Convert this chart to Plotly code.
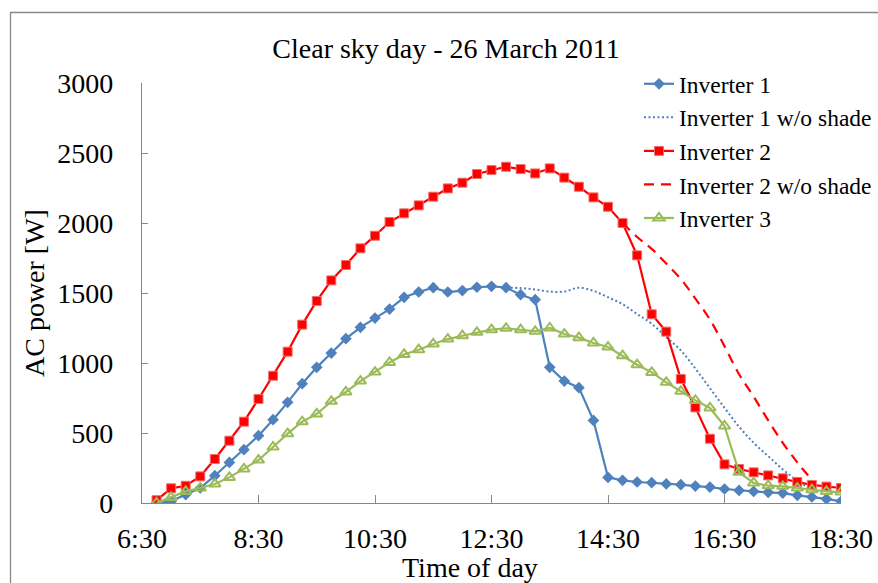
import plotly.graph_objects as go

# ---- data (15-min samples, 6:45 .. 18:30) ----
n_samples = 48
hours = [6.75 + 0.25 * i for i in range(n_samples)]

tick_hours = [6.5, 8.5, 10.5, 12.5, 14.5, 16.5, 18.5]
tick_labels = ["6:30", "8:30", "10:30", "12:30", "14:30", "16:30", "18:30"]
y_ticks = [0, 500, 1000, 1500, 2000, 2500, 3000]

inverter1 = [0, 12, 60, 107, 195, 290, 381, 481, 595, 719, 852, 969, 1071, 1174, 1255, 1321,
             1385, 1469, 1507, 1538, 1507, 1517, 1541, 1548, 1538, 1488, 1452, 969, 871, 824,
             590, 183, 162, 150, 145, 136, 131, 121, 114, 100, 90, 83, 76, 71, 55, 43, 29, 12]

inverter1_noshade = [None] * 24 + [1538, 1535, 1525, 1510, 1510, 1538, 1515, 1470, 1420, 1350,
                                   1280, 1185, 1090, 960, 820, 680, 545, 430, 335, 240, 160, 95]

inverter2 = [20, 105, 123, 190, 314, 445, 581, 743, 909, 1081, 1274, 1443, 1590, 1700, 1819,
             1909, 2007, 2069, 2126, 2188, 2247, 2288, 2350, 2378, 2402, 2385, 2354, 2390, 2324,
             2259, 2183, 2116, 2000, 1769, 1348, 1224, 886, 683, 459, 276, 243, 219, 197, 176,
             150, 129, 117, 107]

inverter2_noshade = [None] * 32 + [2000, 1900, 1815, 1710, 1600, 1460, 1310, 1120, 920, 760,
                                   590, 430, 290, 165]

inverter3 = [0, 40, 83, 107, 136, 183, 243, 307, 400, 495, 581, 636, 726, 793, 871, 935, 1004,
             1061, 1095, 1136, 1171, 1195, 1219, 1238, 1248, 1238, 1226, 1250, 1207, 1181, 1143,
             1114, 1052, 988, 933, 862, 798, 733, 679, 550, 219, 143, 124, 119, 107, 95, 83, 78]

BLUE = "#4F81BD"
RED = "#FF0000"
GREEN = "#9BBB59"
AXIS = "#878787"
FONT = "Liberation Serif"

fig = go.Figure()
fig.add_trace(go.Scatter(x=hours, y=inverter1, name="Inverter 1", mode="lines+markers",
                         line=dict(color=BLUE, width=2.2),
                         marker=dict(symbol="diamond", size=9, color=BLUE)))
fig.add_trace(go.Scatter(x=hours, y=inverter1_noshade, name="Inverter 1 w/o shade", mode="lines",
                         line=dict(color=BLUE, width=2, dash="2px,2.5px", shape="spline"),
                         connectgaps=False))
fig.add_trace(go.Scatter(x=hours, y=inverter2, name="Inverter 2", mode="lines+markers",
                         line=dict(color=RED, width=2.2),
                         marker=dict(symbol="square", size=9, color=RED,
                                     line=dict(color="#F07070", width=1))))
fig.add_trace(go.Scatter(x=hours, y=inverter2_noshade, name="Inverter 2 w/o shade", mode="lines",
                         line=dict(color=RED, width=2.2, dash="10px,7px", shape="spline"),
                         connectgaps=False))
fig.add_trace(go.Scatter(x=hours, y=inverter3, name="Inverter 3", mode="lines+markers",
                         line=dict(color=GREEN, width=2.2),
                         marker=dict(symbol="triangle-up-open", size=10, color=GREEN,
                                     line=dict(color=GREEN, width=2))))

L, R, T, B = 142, 37, 83, 80
W, H = 878, 583
pw, ph = W - L - R, H - T - B

def px_x(px):
    return (px - L) / pw

def px_y(py):
    return (H - B - py) / ph

fig.update_layout(
    width=W, height=H,
    margin=dict(l=L, r=R, t=T, b=B, pad=0, autoexpand=False),
    paper_bgcolor="white", plot_bgcolor="white",
    font=dict(family=FONT, size=28, color="black"),
    title=dict(text="Clear sky day - 26 March 2011", x=446 / W, xanchor="center",
               y=1 - 48 / H, yanchor="middle", font=dict(family=FONT, size=28, color="black")),
    showlegend=True,
    legend=dict(x=px_x(639), y=px_y(62), xanchor="left", yanchor="top",
                bgcolor="rgba(0,0,0,0)", borderwidth=0,
                font=dict(family=FONT, size=23.5, color="black"),
                tracegroupgap=0, itemwidth=30),
    xaxis=dict(range=[6.5, 18.5], tickvals=tick_hours, ticktext=tick_labels,
               showgrid=False, zeroline=False, showline=True, linecolor=AXIS, linewidth=1.3,
               ticks="inside", ticklen=8, tickcolor=AXIS, tickwidth=1.3,
               ticklabelstandoff=10, tickfont=dict(family=FONT, size=28, color="black")),
    yaxis=dict(range=[0, 3000], tickvals=y_ticks,
               showgrid=False, zeroline=False, showline=True, linecolor=AXIS, linewidth=1.3,
               ticks="inside", ticklen=6, tickcolor=AXIS, tickwidth=1.3,
               ticklabelstandoff=22, tickfont=dict(family=FONT, size=28, color="black")),
    annotations=[
        dict(text="AC power [W]", textangle=-90, xref="paper", yref="paper",
             x=px_x(34), y=0.5, xanchor="center", yanchor="middle", showarrow=False,
             font=dict(family=FONT, size=28, color="black")),
        dict(text="Time of day", xref="paper", yref="paper",
             x=px_x(470), y=px_y(550), xanchor="center", yanchor="top", showarrow=False,
             font=dict(family=FONT, size=28, color="black")),
    ],
    shapes=[
        dict(type="rect", xref="paper", yref="paper",
             x0=px_x(10.5), y0=px_y(H + 40), x1=px_x(W + 40), y1=px_y(12.5),
             line=dict(color=AXIS, width=1.3), fillcolor="rgba(0,0,0,0)", layer="below"),
    ],
)

fig.write_html("out.html")
